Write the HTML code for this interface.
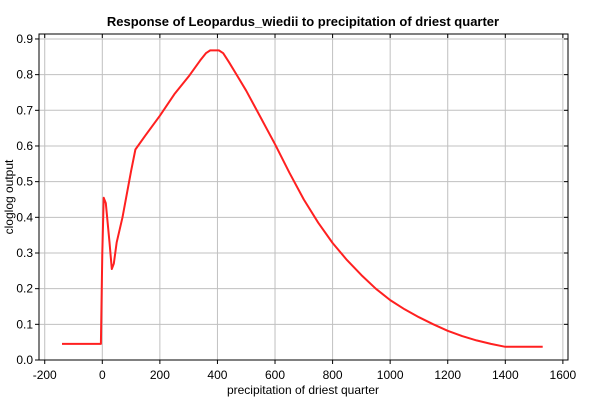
<!DOCTYPE html>
<html><head><meta charset="utf-8"><style>body{margin:0;background:#fff}svg{display:block;font-family:"Liberation Sans",sans-serif}</style></head>
<body>
<svg id="chart" width="600" height="400" xmlns="http://www.w3.org/2000/svg">
<text x="303" y="26" text-anchor="middle" font-size="13" font-weight="bold">Response of Leopardus_wiedii to precipitation of driest quarter</text>
<g id="grid"></g>
<g id="axes"></g>
<path id="line" fill="none" stroke="#ff2020" stroke-width="2" stroke-linejoin="round"></path>
<rect x="39" y="34" width="529" height="326" fill="none" stroke="#000" stroke-width="1"/>
<text x="303" y="394" text-anchor="middle" font-size="12">precipitation of driest quarter</text>
<text transform="translate(13,197) rotate(-90)" text-anchor="middle" font-size="12">cloglog output</text>
</svg>
<script>
const xTicks=[-200,0,200,400,600,800,1000,1200,1400,1600];
const yTicks=[0,0.1,0.2,0.3,0.4,0.5,0.6,0.7,0.8,0.9];
const xs=[-140,-5,0,5,12,25,33,40,50,70,100,115,150,200,250,300,340,360,375,405,420,440,470,500,550,600,650,700,750,800,850,900,950,1000,1050,1100,1150,1200,1250,1300,1350,1400,1530];
const ys=[0.045,0.045,0.3,0.455,0.44,0.33,0.255,0.27,0.33,0.4,0.53,0.59,0.63,0.685,0.745,0.795,0.84,0.86,0.868,0.868,0.86,0.835,0.795,0.755,0.68,0.605,0.525,0.45,0.385,0.328,0.28,0.238,0.2,0.168,0.142,0.12,0.1,0.082,0.067,0.055,0.045,0.037,0.037];
const X=v=>102.3+v*0.28786, Y=v=>360-v*356.7;
const NS="http://www.w3.org/2000/svg";
const g=document.getElementById('grid'), a=document.getElementById('axes');
function mk(p,t,at){const e=document.createElementNS(NS,t);for(const k in at)e.setAttribute(k,at[k]);p.appendChild(e);return e;}
xTicks.forEach(t=>{const x=X(t);
 const l=mk(g,'line',{x1:x,x2:x,y1:34,y2:360,stroke:'#c0c0c0'});
 
 
 mk(a,'line',{x1:x,x2:x,y1:360,y2:364,stroke:'#000'});
 mk(a,'line',{x1:x,x2:x,y1:34,y2:38,stroke:'#000'});
 const tx=mk(a,'text',{x:x,y:379,'text-anchor':'middle','font-size':12});tx.textContent=t;
 
 });
yTicks.forEach(t=>{const y=Y(t);
 const l=mk(g,'line',{x1:39,x2:568,y1:y,y2:y,stroke:'#c0c0c0'});
 
 
 mk(a,'line',{x1:35,x2:39,y1:y,y2:y,stroke:'#000'});
 mk(a,'line',{x1:564,x2:568,y1:y,y2:y,stroke:'#000'});
 const tx=mk(a,'text',{x:33,y:y+4,'text-anchor':'end','font-size':12});tx.textContent=t.toFixed(1);
 
 });
document.getElementById('line').setAttribute('d',xs.map((v,i)=>(i?'L':'M')+X(v).toFixed(1)+' '+Y(ys[i]).toFixed(1)).join(''));
</script>
</body></html>
